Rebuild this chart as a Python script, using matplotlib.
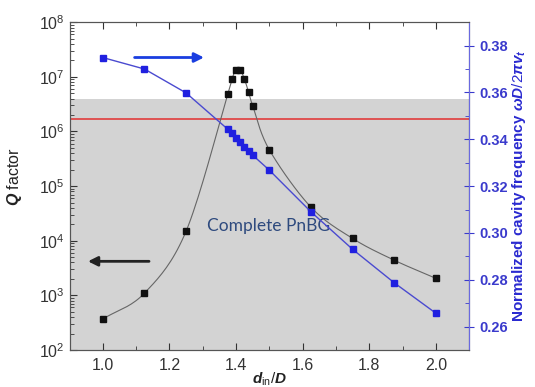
import numpy as np
import matplotlib
matplotlib.use("Agg")
from matplotlib import pyplot as plt
from matplotlib.ticker import MultipleLocator, LogLocator, FormatStrFormatter

# Q factor (left axis, log)
q_x = [1.0, 1.125, 1.25, 1.375, 1.3875, 1.4, 1.4125, 1.425, 1.4375, 1.45, 1.5,
       1.625, 1.75, 1.875, 2.0]
q_val = [370, 1100, 15000, 4.8e6, 9.1e6, 1.35e7, 1.35e7, 9.1e6, 5.3e6, 2.95e6, 4.6e5,
         4.1e4, 1.1e4, 4400, 2050]

# normalized cavity frequency (right axis)
f_x = [1.0, 1.125, 1.25, 1.375, 1.3875, 1.4, 1.4125, 1.425, 1.4375, 1.45, 1.5,
       1.625, 1.75, 1.875, 2.0]
f_val = [0.3749, 0.370, 0.3598, 0.3443, 0.3425, 0.3406, 0.3388, 0.3369, 0.3351, 0.3332,
         0.3268, 0.309, 0.293, 0.2787, 0.2657]

band_top = 3.9e6
red_level = 1.66e6


def smooth(x, y, n=20):
    # catmull-rom through the points, only for drawing the connecting curve
    x = np.asarray(x, float)
    y = np.asarray(y, float)
    px = np.concatenate([[2 * x[0] - x[1]], x, [2 * x[-1] - x[-2]]])
    py = np.concatenate([[2 * y[0] - y[1]], y, [2 * y[-1] - y[-2]]])
    xs, ys = [], []
    for i in range(1, len(px) - 2):
        t = np.linspace(0, 1, n)
        for p, out in ((px, xs), (py, ys)):
            p0, p1, p2, p3 = p[i - 1], p[i], p[i + 1], p[i + 2]
            out.extend(0.5 * (2 * p1 + (-p0 + p2) * t + (2 * p0 - 5 * p1 + 4 * p2 - p3) * t ** 2
                              + (-p0 + 3 * p1 - 3 * p2 + p3) * t ** 3))
    return np.array(xs), np.array(ys)


plt.rcParams['font.family'] = ['Liberation Sans', 'DejaVu Sans']
plt.rcParams['mathtext.fontset'] = 'custom'
plt.rcParams['mathtext.rm'] = 'Liberation Sans'
plt.rcParams['mathtext.it'] = 'Liberation Sans:italic:bold'
plt.rcParams['mathtext.bf'] = 'Liberation Sans:bold'

fig = plt.figure(figsize=(5.35, 3.87), dpi=100)
ax = fig.add_axes([0.130, 0.0956, 0.747, 0.847])
ax2 = ax.twinx()

ax.set_yscale('log')
ax.set_xlim(0.9, 2.1)
ax.set_ylim(1e2, 1e8)
ax2.set_ylim(0.25, 0.39)

ax.axhspan(1e2, band_top, color='#d3d3d3', lw=0, zorder=0)
ax.axhline(red_level, color='#e04848', lw=1.3, zorder=1)

sx, sy = smooth(q_x, np.log10(q_val))
ax.plot(sx, 10 ** sy, color='#666666', lw=0.8, zorder=2)
ax.plot(q_x, q_val, 's', color='#111111', ms=4.5, zorder=3)

ax2.plot(f_x, f_val, '-s', color='#4a4ad0', mfc='#2020e0', mec='#2020e0', ms=4.5, lw=1.0)

ax.annotate('', xy=(0.947, 4200), xytext=(1.147, 4200),
            arrowprops=dict(arrowstyle='-|>', color='#222222', lw=2, mutation_scale=14))
ax.annotate('', xy=(1.312, 2.26e7), xytext=(1.087, 2.26e7),
            arrowprops=dict(arrowstyle='-|>', color='#1a3ee0', lw=2, mutation_scale=14))

ax.text(1.497, 1.85e4, 'Complete PnBG', color='#2e4a7e', fontsize=12.5,
        family='Lato', ha='center', va='center')

ax.xaxis.set_major_locator(MultipleLocator(0.2))
ax.xaxis.set_minor_locator(MultipleLocator(0.1))
ax.xaxis.set_major_formatter(FormatStrFormatter('%.1f'))
ax.yaxis.set_major_locator(LogLocator(base=10, numticks=10))
ax.yaxis.set_minor_locator(LogLocator(base=10, subs=np.arange(2, 10), numticks=10))
ax.tick_params(axis='x', which='both', direction='in', top=True, colors='#333333',
               labelsize=11.5, pad=6)
ax.tick_params(axis='x', which='major', length=5)
ax.tick_params(axis='x', which='minor', length=3)
ax.tick_params(axis='y', which='both', direction='in', colors='#333333', labelsize=11.5)
ax.tick_params(axis='y', which='major', length=5)
ax.tick_params(axis='y', which='minor', length=3)

ax2.yaxis.set_major_locator(MultipleLocator(0.02))
ax2.yaxis.set_minor_locator(MultipleLocator(0.01))
ax2.yaxis.set_major_formatter(FormatStrFormatter('%.2f'))
ax2.tick_params(axis='y', which='major', direction='inout', length=7, colors='#3a3acc',
                labelsize=10.5)
ax2.tick_params(axis='y', which='minor', direction='in', length=3, colors='#3a3acc')
for lab in ax2.get_yticklabels():
    lab.set_fontweight('bold')

for s in ('left', 'top', 'bottom'):
    ax.spines[s].set_color('#555555')
    ax2.spines[s].set_color('#555555')
ax2.spines['right'].set_color('#6a6ae0')

ax.set_ylabel(r'$Q$ factor', fontsize=11.5, color='#222222', labelpad=6)
ax.yaxis.set_label_coords(-0.115, 0.53)
ax2.set_ylabel(r'Normalized cavity frequency $\omega D/2\pi v_t$', fontsize=11,
               fontweight='bold', color='#2a2ad0', labelpad=2)
ax.set_xlabel(r'$d_{\rm in}/D$', fontsize=11, color='#222222', labelpad=-2)

fig.savefig('out.png', dpi=100)
